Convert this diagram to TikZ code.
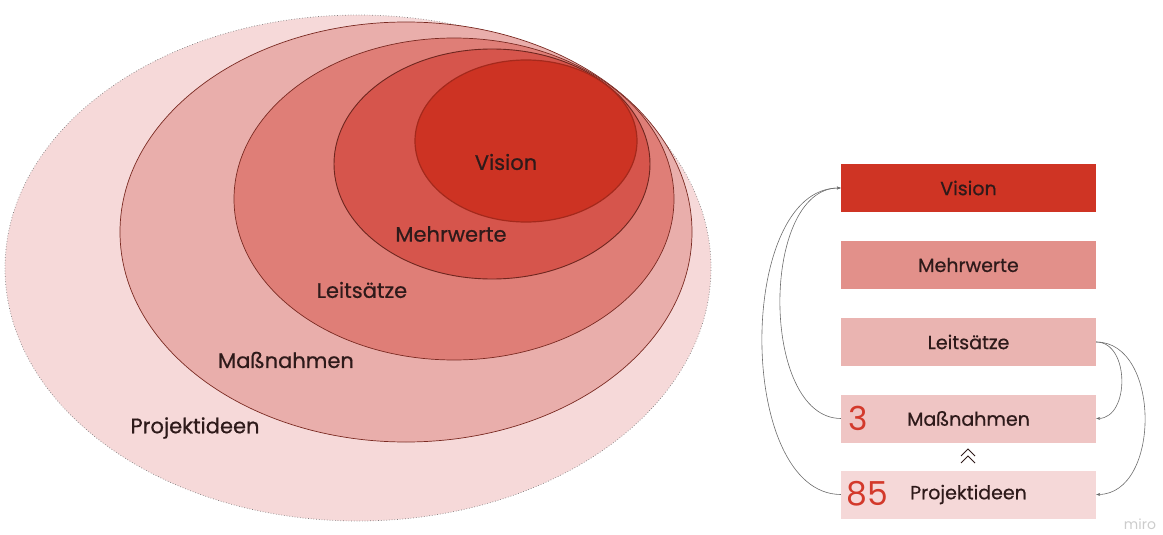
\documentclass[tikz,border=0pt]{standalone}
\usepackage{fontspec}
\setmainfont{Poppins}[BoldFont=*, BoldFeatures={FakeBold=0.6}]
\usetikzlibrary{shapes.geometric,arrows.meta}
\definecolor{cproj}{HTML}{F6D9D9}
\definecolor{cmass}{HTML}{E9AEAB}
\definecolor{cleit}{HTML}{DF7E77}
\definecolor{cmehr}{HTML}{D6554C}
\definecolor{cvis}{HTML}{CD3323}
\definecolor{bvis}{HTML}{CF3424}
\definecolor{bmehr}{HTML}{E2908A}
\definecolor{bleit}{HTML}{EAB4B1}
\definecolor{bmass}{HTML}{EFC5C4}
\definecolor{bproj}{HTML}{F5D8D8}
\definecolor{txt}{HTML}{2E1A1A}
\definecolor{edge}{HTML}{7A2A22}
\definecolor{num}{HTML}{D3392B}
\tikzset{
  ell/.style={ellipse, inner sep=0pt, draw=edge, line width=0.7pt},
  lab/.style={text=txt, font=\bfseries\fontsize{21}{21}\selectfont, inner sep=0pt},
  bx/.style={rectangle, inner sep=0pt, minimum width=255pt, minimum height=48pt, text=txt, font=\bfseries\fontsize{19}{19}\selectfont},
  numlab/.style={text=num, font=\fontsize{33}{33}\selectfont, inner sep=0pt},
  conn/.style={draw=gray!85!black, line width=0.6pt, -{Stealth[length=4pt,width=3pt]}}
}
\begin{document}
\begin{tikzpicture}[x=1pt,y=-1pt]
\useasboundingbox (0,0) rectangle (1163,535);
% ellipses
\node[ell, fill=cproj, draw=gray, dotted, minimum width=706pt, minimum height=506pt] (eproj) at (358,268) {};
\node[ell, fill=cmass, minimum width=572pt, minimum height=420pt] (emass) at (406,232) {};
\node[ell, fill=cleit, minimum width=440pt, minimum height=322pt] (eleit) at (454,199) {};
\node[ell, fill=cmehr, draw=edge!90!black, line width=0.9pt, minimum width=316pt, minimum height=230pt] (emehr) at (492,164) {};
\node[ell, fill=cvis, draw=cvis!80!black, line width=1.2pt, minimum width=222pt, minimum height=162pt] (evis) at (526,141) {};
% ellipse labels
\node[lab] (lvis) at (506,162) {Vision};
\node[lab] (lmehr) at (451,234) {Mehrwerte};
\node[lab] (lleit) at (362,290) {Leitsätze};
\node[lab] (lmass) at (286,360) {Maßnahmen};
\node[lab] (lproj) at (195,428) {Projektideen};
% boxes
\node[bx, fill=bvis] (bv) at (968.5,188) {Vision};
\node[bx, fill=bmehr] (bm) at (968.5,265) {Mehrwerte};
\node[bx, fill=bleit] (bl) at (968.5,342) {Leitsätze};
\node[bx, fill=bmass] (bs) at (968.5,418.5) {Maßnahmen};
\node[bx, fill=bproj] (bp) at (968.5,494.5) {Projektideen};
\node[numlab] (n3) at (858,418) {3};
\node[numlab] (n85) at (867,494) {85};
% chevrons
\draw[txt, line width=0.9pt] (961,456)--(968,449)--(975,456);
\draw[txt, line width=0.9pt] (961,463)--(968,456)--(975,463);
% connectors
\draw[conn] (bs.west) .. controls (760,418) and (760,188) .. (bv.west);
\draw[conn] (bp.west) .. controls (736,494) and (736,188) .. (bv.west);
\draw[conn] (bl.east) .. controls (1130,342) and (1130,418) .. (bs.east);
\draw[conn] (bl.east) .. controls (1161,342) and (1161,494) .. (bp.east);
% watermark
\node[text=gray!40, font=\fontsize{14}{14}\selectfont, inner sep=0pt] (miro) at (1140,524) {miro};
\end{tikzpicture}
\end{document}
